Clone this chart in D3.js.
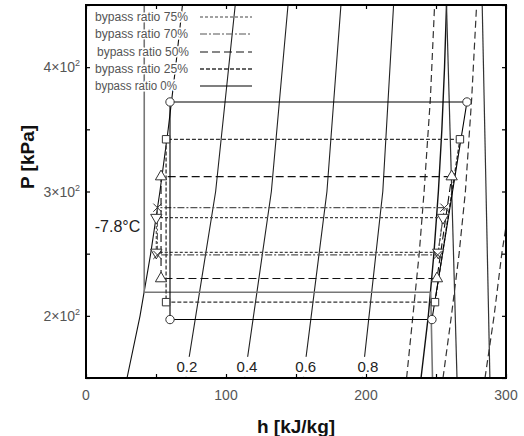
<!DOCTYPE html>
<html>
<head>
<meta charset="utf-8">
<script src="https://cdn.jsdelivr.net/npm/d3@7"></script>
<style>
  body { margin: 0; background: #fff; }
  text { font-family: Arial, "Liberation Sans", sans-serif; }
</style>
</head>
<body>
<div id="chart"></div>
<script>
const svgWidth = 524;
const svgHeight = 436;

const margin = {
    top: 5,
    right: 18,
    bottom: 58,
    left: 86
};

const width = svgWidth - margin.left - margin.right;
const height = svgHeight - margin.top - margin.bottom;

// Saturation dome (R134a)
const satP = [150, 200, 250, 300, 350, 400, 450];
const satLiquidH = [29.3, 38.6, 46.2, 52.8, 58.7, 64.0, 68.9];
const satVapourH = [239.3, 244.5, 248.5, 251.7, 254.2, 256.1, 257.5];

// Quality lines
const qualityP = [150, 300, 450];
const qualityLabels = ["0.2", "0.4", "0.6", "0.8"];
const quality02H = [71.3, 92.6, 106.6];
const quality04H = [113.3, 132.4, 144.3];
const quality06H = [155.3, 172.1, 182.1];
const quality08H = [197.3, 212.0, 219.7];
const qualityLabelH = [72.1, 115.0, 157.0, 201.4];
const qualityLabelP = 159;

// -7.8 C isotherm
const isothermLabel = "-7.8°C";
const isoColdH = [41.6, 41.6, 246.2, 247.5];
const isoColdP = [450, 219, 219, 150];

// other isotherms (solid) in vapour region
const isoWarm1H = [257.5, 265.0];
const isoWarm1P = [450, 150];
const isoWarm2H = [283.0, 288.5];
const isoWarm2P = [450, 150];

// isentropes (dashed)
const isenP = [150, 200, 250, 300, 375, 450];
const isen1H = [229.0, 233.5, 238.0, 241.5, 246.0, 249.0];
const isen2H = [255.0, 261.0, 266.5, 271.0, 275.5, 279.0];
const isen3H = [285.0, 291.5, 297.0, 300.0];
const isen3P = [150, 200, 250, 272];

// Cycles, one entry per bypass ratio
const bypassRatios = ["bypass ratio 75%", "bypass ratio 70%", "bypass ratio 50%", "bypass ratio 25%", "bypass ratio 0%"];
const highP = [279, 287, 312, 342, 372];
const lowP = [251, 249, 230, 211, 197];
const liquidH = [50.2, 51.0, 53.6, 57.2, 60.0];
const suctionH = [251.6, 251.2, 250.7, 249.3, 247.1];
const dischargeH = [255.0, 256.0, 261.2, 267.1, 272.1];

// Axis ticks
const xTickValues = [0, 100, 200, 300];
const yTickValues = [200, 300, 400];
const yTickMant = ["2", "3", "4"];

// styles
const cycleDash = ["3,2", "7,2,2,2", "8,4", "4,2", null];
const cycleColor = ["#444", "#555", "#111", "#333", "#000"];
const cycleWidth = [1.1, 1.1, 1.1, 1.3, 1.1];
const cycleSymbol = [d3.symbolTriangle, d3.symbolX, d3.symbolTriangle, d3.symbolSquare, d3.symbolCircle];
const cycleRotate = [180, 0, 0, 0, 0];

const svg = d3.select("#chart")
    .append("svg")
    .attr("width", svgWidth)
    .attr("height", svgHeight);

const chartGroup = svg.append("g")
    .attr("transform", `translate(${margin.left}, ${margin.top})`);

const xScale = d3.scaleLinear().domain([0, 300]).range([0, width]);
const yScale = d3.scaleLinear().domain([150, 450]).range([height, 0]);

svg.append("defs").append("clipPath").attr("id", "clip")
    .append("rect").attr("width", width).attr("height", height);

const plot = chartGroup.append("g").attr("clip-path", "url(#clip)");

const line = d3.line().x(d => xScale(d[0])).y(d => yScale(d[1]));
const zip = (hs, ps) => hs.map((h, i) => [h, ps[i]]);

function drawPath(pts, color, w, dash) {
    plot.append("path")
        .attr("d", line(pts))
        .attr("fill", "none")
        .attr("stroke", color)
        .attr("stroke-width", w)
        .attr("stroke-dasharray", dash);
}

// isolines
drawPath(zip(satLiquidH, satP), "#111", 1.1, null);
drawPath(zip(satVapourH, satP), "#111", 1.4, null);
[quality02H, quality04H, quality06H, quality08H].forEach(q => drawPath(zip(q, qualityP), "#222", 1.1, null));
drawPath(zip(isoColdH, isoColdP), "#777", 1.6, null);
drawPath(zip(isoWarm1H, isoWarm1P), "#333", 1.2, null);
drawPath(zip(isoWarm2H, isoWarm2P), "#333", 1.2, null);
drawPath(zip(isen1H, isenP), "#333", 1.2, "7,4");
drawPath(zip(isen2H, isenP), "#333", 1.2, "7,4");
drawPath(zip(isen3H, isen3P), "#333", 1.2, "7,4");

// quality labels with white background
qualityLabels.forEach((lab, i) => {
    const cx = xScale(qualityLabelH[i]), cy = yScale(qualityLabelP);
    plot.append("rect")
        .attr("x", cx - 14).attr("y", cy - 10)
        .attr("width", 28).attr("height", 20)
        .attr("fill", "#fff");
    plot.append("text")
        .attr("x", cx).attr("y", cy + 5)
        .attr("text-anchor", "middle")
        .attr("font-size", 15)
        .attr("fill", "#222")
        .text(lab);
});

// -7.8 C label
chartGroup.append("text")
    .attr("x", xScale(isoColdH[0]) - 4)
    .attr("y", yScale(isoColdP[1]) - 60)
    .attr("text-anchor", "end")
    .attr("font-size", 16)
    .attr("fill", "#222")
    .text(isothermLabel);

// cycles
bypassRatios.forEach((name, i) => {
    const pts = [
        [dischargeH[i], highP[i]],
        [liquidH[i], highP[i]],
        [liquidH[i], lowP[i]],
        [suctionH[i], lowP[i]],
        [dischargeH[i], highP[i]]
    ];
    drawPath(pts, cycleColor[i], cycleWidth[i], cycleDash[i]);
});
bypassRatios.forEach((name, i) => {
    const corners = [
        [dischargeH[i], highP[i]],
        [liquidH[i], highP[i]],
        [liquidH[i], lowP[i]],
        [suctionH[i], lowP[i]]
    ];
    plot.selectAll(null)
        .data(corners)
        .enter()
        .append("path")
        .attr("d", d3.symbol().type(cycleSymbol[i]).size(i === 1 ? 45 : 55))
        .attr("transform", d => `translate(${xScale(d[0])},${yScale(d[1])}) rotate(${cycleRotate[i]})`)
        .attr("fill", "#fff")
        .attr("stroke", "#333")
        .attr("stroke-width", 1);
});

// legend
const legendY = [17, 34, 52, 69, 86];
const legendX = [95, 95, 97, 95, 95];
const legendLen = [93, 93, 92, 93, 82];
bypassRatios.forEach((name, i) => {
    chartGroup.append("text")
        .attr("x", legendX[i] - margin.left)
        .attr("y", legendY[i] - margin.top + 4)
        .attr("font-size", 12)
        .attr("textLength", legendLen[i])
        .attr("lengthAdjust", "spacingAndGlyphs")
        .attr("fill", "#555")
        .attr("stroke", "#fff")
        .attr("stroke-width", 3)
        .attr("paint-order", "stroke")
        .text(name);
    chartGroup.append("line")
        .attr("x1", 200 - margin.left).attr("x2", 252 - margin.left)
        .attr("y1", legendY[i] - margin.top).attr("y2", legendY[i] - margin.top)
        .attr("stroke", cycleColor[i])
        .attr("stroke-width", cycleWidth[i])
        .attr("stroke-dasharray", cycleDash[i]);
});

// axes (ticks inward on all sides)
const xMinor = d3.range(0, 301, 50);
const yMinor = d3.range(150, 451, 50);
chartGroup.append("g").attr("transform", `translate(0,${height})`)
    .call(d3.axisBottom(xScale).tickValues(xMinor).tickSize(-4).tickFormat(""));
chartGroup.append("g")
    .call(d3.axisTop(xScale).tickValues(xMinor).tickSize(-4).tickFormat(""));
chartGroup.append("g")
    .call(d3.axisLeft(yScale).tickValues(yMinor).tickSize(-4).tickFormat(""));
chartGroup.append("g").attr("transform", `translate(${width},0)`)
    .call(d3.axisRight(yScale).tickValues(yMinor).tickSize(-4).tickFormat(""));
chartGroup.selectAll(".domain").remove();
chartGroup.selectAll(".tick line").attr("stroke", "#000").attr("stroke-width", 1.2);

chartGroup.append("rect")
    .attr("width", width).attr("height", height)
    .attr("fill", "none").attr("stroke", "#000").attr("stroke-width", 2);

// tick labels
chartGroup.selectAll(null)
    .data(xTickValues)
    .enter()
    .append("text")
    .attr("x", d => xScale(d))
    .attr("y", height + 22)
    .attr("text-anchor", "middle")
    .attr("font-size", 14)
    .attr("fill", "#555")
    .text(d => d);

yTickValues.forEach((v, i) => {
    const t = chartGroup.append("text")
        .attr("x", -6)
        .attr("y", yScale(v) + 5)
        .attr("text-anchor", "end")
        .attr("font-size", 14)
        .attr("fill", "#555");
    t.append("tspan").text(yTickMant[i] + "×10");
    t.append("tspan").attr("dy", -6).attr("font-size", 9).text("2");
});

// axis titles
svg.append("text")
    .attr("x", 296).attr("y", 433)
    .attr("text-anchor", "middle")
    .attr("font-size", 19)
    .attr("font-weight", "bold")
    .attr("fill", "#111")
    .text("h [kJ/kg]");

svg.append("text")
    .attr("transform", "translate(34,157) rotate(-90)")
    .attr("text-anchor", "middle")
    .attr("font-size", 19)
    .attr("font-weight", "bold")
    .attr("fill", "#111")
    .text("P [kPa]");
</script>
</body>
</html>
